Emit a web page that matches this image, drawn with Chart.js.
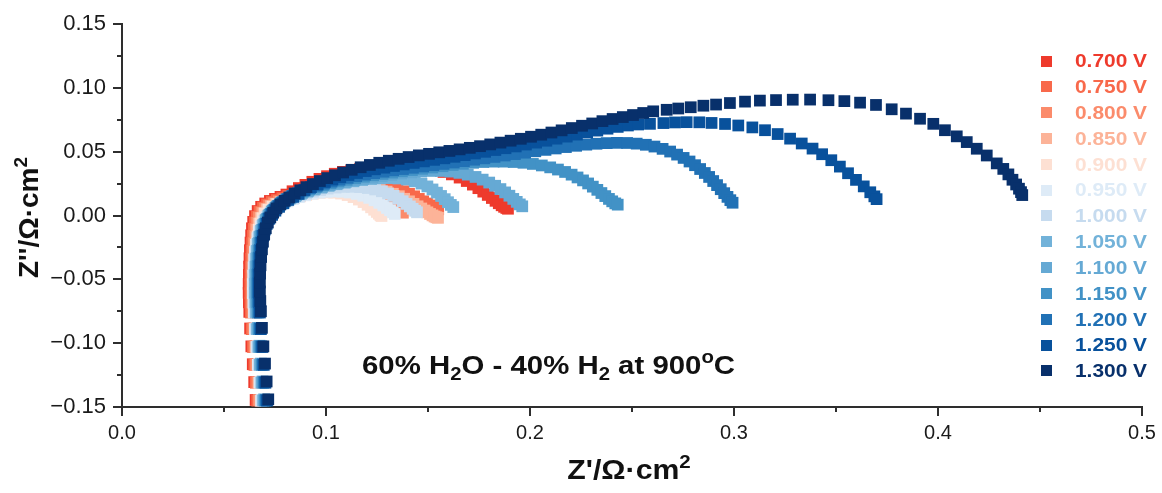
<!DOCTYPE html>
<html>
<head>
<meta charset="utf-8">
<script src="https://cdn.jsdelivr.net/npm/chart.js@4.4.1/dist/chart.umd.min.js"></script>
<style>
  html, body { margin: 0; padding: 0; background: #ffffff; }
  canvas { display: block; }
</style>
</head>
<body>
<canvas id="nyquist" width="1162" height="493"></canvas>
<script>
// Axis ticks
const xTicks = [0, 0.1, 0.2, 0.3, 0.4, 0.5];
const xTickLabels = ['0.0', '0.1', '0.2', '0.3', '0.4', '0.5'];
const yTicks = [-0.15, -0.10, -0.05, 0, 0.05, 0.10, 0.15];
const yTickLabels = ['\u22120.15', '\u22120.10', '\u22120.05', '0.00', '0.05', '0.10', '0.15'];

// Cell voltages and their colours
const voltages = ['0.700 V', '0.750 V', '0.800 V', '0.850 V', '0.900 V', '0.950 V', '1.000 V',
                  '1.050 V', '1.100 V', '1.150 V', '1.200 V', '1.250 V', '1.300 V'];
const colors = ['#ee3a2c', '#f8694b', '#fb8b6b', '#fcb398', '#fde0d3', '#deebf7', '#c6dbef',
                '#72b2d9', '#65a9d4', '#4292c6', '#2171b5', '#08519c', '#08306b'];

// Impedance spectra, [Z', Z''] in ohm·cm², from high to low frequency
const z0700 = [[0.0655,-0.1445],[0.0648,-0.1305],[0.0641,-0.1165],[0.0634,-0.1025],[0.0628,-0.0885],[0.0624,-0.0755],[0.0622,-0.0680],[0.0621,-0.0605],[0.0621,-0.0535],[0.0622,-0.0465],[0.0623,-0.0400],[0.0625,-0.0335],[0.0627,-0.0272],[0.0630,-0.0212],[0.0633,-0.0155],[0.0637,-0.0100],[0.0643,-0.0050],[0.0652,-0.0005],[0.0665,0.0035],[0.0682,0.0068],[0.0702,0.0094],[0.0725,0.0114],[0.0750,0.0130],[0.0777,0.0146],[0.0806,0.0164],[0.0836,0.0190],[0.0867,0.0215],[0.0899,0.0240],[0.0933,0.0264],[0.0968,0.0287],[0.1005,0.0308],[0.1043,0.0327],[0.1083,0.0342],[0.1124,0.0354],[0.1166,0.0363],[0.1210,0.0370],[0.1255,0.0375],[0.1301,0.0378],[0.1348,0.0379],[0.1395,0.0378],[0.1442,0.0375],[0.1488,0.0368],[0.1533,0.0356],[0.1576,0.0341],[0.1617,0.0322],[0.1655,0.0297],[0.1690,0.0270],[0.1720,0.0242],[0.1747,0.0214],[0.1771,0.0187],[0.1793,0.0161],[0.1813,0.0137],[0.1831,0.0115],[0.1847,0.0096],[0.1861,0.0080],[0.1873,0.0068],[0.1884,0.0059],[0.1892,0.0053]];
const z0750 = [[0.0663,-0.1450],[0.0656,-0.1310],[0.0649,-0.1170],[0.0642,-0.1030],[0.0636,-0.0890],[0.0632,-0.0760],[0.0630,-0.0684],[0.0629,-0.0610],[0.0629,-0.0540],[0.0630,-0.0470],[0.0631,-0.0405],[0.0633,-0.0340],[0.0635,-0.0277],[0.0638,-0.0217],[0.0641,-0.0160],[0.0646,-0.0105],[0.0652,-0.0055],[0.0661,-0.0010],[0.0674,0.0030],[0.0691,0.0062],[0.0711,0.0087],[0.0734,0.0106],[0.0759,0.0121],[0.0786,0.0136],[0.0815,0.0152],[0.0845,0.0169],[0.0876,0.0186],[0.0908,0.0203],[0.0942,0.0219],[0.0977,0.0233],[0.1014,0.0245],[0.1052,0.0255],[0.1091,0.0262],[0.1131,0.0266],[0.1171,0.0266],[0.1210,0.0262],[0.1248,0.0253],[0.1284,0.0240],[0.1318,0.0226],[0.1350,0.0209],[0.1380,0.0190],[0.1407,0.0170],[0.1432,0.0150],[0.1455,0.0130],[0.1476,0.0111],[0.1495,0.0094],[0.1512,0.0079],[0.1527,0.0066],[0.1540,0.0056],[0.1550,0.0048]];
const z0800 = [[0.0671,-0.1445],[0.0664,-0.1305],[0.0657,-0.1165],[0.0650,-0.1025],[0.0644,-0.0885],[0.0640,-0.0755],[0.0638,-0.0680],[0.0637,-0.0605],[0.0637,-0.0535],[0.0638,-0.0466],[0.0639,-0.0401],[0.0641,-0.0337],[0.0643,-0.0275],[0.0646,-0.0216],[0.0650,-0.0160],[0.0655,-0.0107],[0.0662,-0.0058],[0.0671,-0.0015],[0.0684,0.0023],[0.0701,0.0054],[0.0721,0.0078],[0.0744,0.0096],[0.0769,0.0111],[0.0796,0.0126],[0.0825,0.0142],[0.0855,0.0158],[0.0886,0.0174],[0.0918,0.0189],[0.0952,0.0202],[0.0987,0.0213],[0.1023,0.0221],[0.1060,0.0226],[0.1097,0.0227],[0.1134,0.0224],[0.1170,0.0216],[0.1204,0.0204],[0.1235,0.0188],[0.1263,0.0169],[0.1288,0.0148],[0.1310,0.0126],[0.1329,0.0104],[0.1345,0.0083],[0.1358,0.0064],[0.1367,0.0047],[0.1373,0.0033],[0.1377,0.0022]];
const z0850 = [[0.0679,-0.1450],[0.0672,-0.1310],[0.0665,-0.1170],[0.0658,-0.1030],[0.0652,-0.0890],[0.0648,-0.0760],[0.0646,-0.0684],[0.0645,-0.0610],[0.0645,-0.0540],[0.0646,-0.0471],[0.0647,-0.0406],[0.0649,-0.0342],[0.0651,-0.0280],[0.0654,-0.0221],[0.0658,-0.0165],[0.0663,-0.0112],[0.0670,-0.0063],[0.0680,-0.0020],[0.0693,0.0018],[0.0710,0.0049],[0.0730,0.0073],[0.0753,0.0091],[0.0778,0.0106],[0.0805,0.0121],[0.0834,0.0136],[0.0864,0.0151],[0.0895,0.0166],[0.0928,0.0180],[0.0962,0.0193],[0.0997,0.0205],[0.1034,0.0215],[0.1072,0.0222],[0.1111,0.0226],[0.1150,0.0226],[0.1189,0.0222],[0.1227,0.0214],[0.1263,0.0202],[0.1297,0.0187],[0.1328,0.0170],[0.1357,0.0151],[0.1383,0.0131],[0.1407,0.0111],[0.1429,0.0091],[0.1449,0.0072],[0.1467,0.0055],[0.1483,0.0039],[0.1497,0.0025],[0.1510,0.0012],[0.1522,0.0001],[0.1532,-0.0008],[0.1541,-0.0014],[0.1549,-0.0018]];
const z0900 = [[0.0687,-0.1445],[0.0680,-0.1305],[0.0673,-0.1165],[0.0666,-0.1025],[0.0660,-0.0885],[0.0656,-0.0755],[0.0654,-0.0680],[0.0653,-0.0606],[0.0653,-0.0536],[0.0654,-0.0467],[0.0655,-0.0402],[0.0657,-0.0338],[0.0659,-0.0277],[0.0662,-0.0218],[0.0666,-0.0163],[0.0671,-0.0111],[0.0678,-0.0063],[0.0688,-0.0021],[0.0701,0.0016],[0.0718,0.0046],[0.0738,0.0070],[0.0761,0.0089],[0.0786,0.0105],[0.0813,0.0120],[0.0842,0.0135],[0.0872,0.0149],[0.0903,0.0161],[0.0936,0.0171],[0.0970,0.0178],[0.1005,0.0181],[0.1040,0.0179],[0.1074,0.0172],[0.1106,0.0160],[0.1135,0.0144],[0.1161,0.0125],[0.1184,0.0105],[0.1204,0.0084],[0.1221,0.0064],[0.1236,0.0045],[0.1249,0.0028],[0.1259,0.0014],[0.1267,0.0003],[0.1272,-0.0004]];
const z0950 = [[0.0682,-0.1450],[0.0674,-0.1310],[0.0666,-0.1170],[0.0659,-0.1030],[0.0652,-0.0890],[0.0647,-0.0760],[0.0644,-0.0682],[0.0642,-0.0608],[0.0642,-0.0538],[0.0643,-0.0471],[0.0645,-0.0407],[0.0648,-0.0345],[0.0652,-0.0286],[0.0657,-0.0230],[0.0664,-0.0178],[0.0672,-0.0130],[0.0682,-0.0087],[0.0694,-0.0049],[0.0708,-0.0015],[0.0724,0.0016],[0.0742,0.0043],[0.0763,0.0068],[0.0786,0.0090],[0.0811,0.0110],[0.0838,0.0128],[0.0867,0.0144],[0.0898,0.0158],[0.0931,0.0170],[0.0966,0.0179],[0.1003,0.0185],[0.1041,0.0188],[0.1079,0.0186],[0.1116,0.0180],[0.1151,0.0169],[0.1183,0.0155],[0.1212,0.0138],[0.1238,0.0119],[0.1261,0.0099],[0.1281,0.0079],[0.1299,0.0059],[0.1314,0.0041],[0.1327,0.0025],[0.1337,0.0012]];
const z1000 = [[0.0687,-0.1445],[0.0679,-0.1305],[0.0671,-0.1165],[0.0664,-0.1025],[0.0657,-0.0885],[0.0652,-0.0755],[0.0649,-0.0677],[0.0647,-0.0603],[0.0647,-0.0533],[0.0648,-0.0466],[0.0650,-0.0402],[0.0653,-0.0339],[0.0657,-0.0280],[0.0662,-0.0224],[0.0669,-0.0172],[0.0677,-0.0124],[0.0687,-0.0081],[0.0699,-0.0043],[0.0713,-0.0009],[0.0729,0.0022],[0.0747,0.0050],[0.0768,0.0075],[0.0791,0.0098],[0.0816,0.0119],[0.0843,0.0138],[0.0872,0.0156],[0.0903,0.0172],[0.0936,0.0187],[0.0971,0.0200],[0.1008,0.0211],[0.1047,0.0219],[0.1087,0.0224],[0.1127,0.0225],[0.1167,0.0222],[0.1205,0.0215],[0.1241,0.0204],[0.1274,0.0190],[0.1304,0.0173],[0.1331,0.0154],[0.1355,0.0133],[0.1376,0.0112],[0.1395,0.0091],[0.1411,0.0071],[0.1425,0.0053],[0.1437,0.0037],[0.1446,0.0025]];
const z1050 = [[0.0692,-0.1450],[0.0684,-0.1310],[0.0676,-0.1170],[0.0669,-0.1030],[0.0662,-0.0890],[0.0657,-0.0760],[0.0654,-0.0680],[0.0652,-0.0605],[0.0652,-0.0535],[0.0653,-0.0467],[0.0655,-0.0402],[0.0658,-0.0338],[0.0662,-0.0278],[0.0667,-0.0221],[0.0674,-0.0168],[0.0682,-0.0119],[0.0692,-0.0075],[0.0704,-0.0036],[0.0718,-0.0001],[0.0734,0.0031],[0.0752,0.0059],[0.0773,0.0085],[0.0796,0.0109],[0.0821,0.0131],[0.0848,0.0151],[0.0877,0.0170],[0.0908,0.0187],[0.0941,0.0203],[0.0976,0.0218],[0.1013,0.0232],[0.1052,0.0245],[0.1092,0.0257],[0.1134,0.0268],[0.1177,0.0278],[0.1221,0.0286],[0.1266,0.0291],[0.1311,0.0293],[0.1355,0.0290],[0.1397,0.0282],[0.1435,0.0268],[0.1468,0.0250],[0.1497,0.0228],[0.1522,0.0204],[0.1544,0.0179],[0.1564,0.0153],[0.1582,0.0128],[0.1598,0.0104],[0.1612,0.0083],[0.1624,0.0066]];
const z1100 = [[0.0697,-0.1440],[0.0689,-0.1300],[0.0681,-0.1160],[0.0674,-0.1020],[0.0667,-0.0880],[0.0662,-0.0750],[0.0659,-0.0672],[0.0657,-0.0598],[0.0657,-0.0528],[0.0658,-0.0460],[0.0660,-0.0395],[0.0663,-0.0332],[0.0667,-0.0272],[0.0672,-0.0215],[0.0679,-0.0162],[0.0687,-0.0113],[0.0697,-0.0069],[0.0709,-0.0030],[0.0723,0.0005],[0.0739,0.0037],[0.0757,0.0066],[0.0778,0.0092],[0.0801,0.0116],[0.0826,0.0138],[0.0853,0.0158],[0.0882,0.0177],[0.0913,0.0194],[0.0946,0.0210],[0.0981,0.0225],[0.1018,0.0239],[0.1057,0.0252],[0.1097,0.0264],[0.1139,0.0276],[0.1182,0.0287],[0.1227,0.0298],[0.1273,0.0309],[0.1320,0.0319],[0.1368,0.0329],[0.1417,0.0338],[0.1466,0.0345],[0.1515,0.0349],[0.1563,0.0349],[0.1610,0.0344],[0.1654,0.0334],[0.1695,0.0320],[0.1733,0.0302],[0.1768,0.0281],[0.1800,0.0258],[0.1829,0.0233],[0.1855,0.0207],[0.1878,0.0181],[0.1899,0.0155],[0.1918,0.0130],[0.1935,0.0107],[0.1950,0.0087],[0.1962,0.0072]];
const z1150 = [[0.0701,-0.1450],[0.0693,-0.1310],[0.0685,-0.1170],[0.0678,-0.1030],[0.0671,-0.0890],[0.0666,-0.0760],[0.0663,-0.0680],[0.0661,-0.0605],[0.0661,-0.0535],[0.0662,-0.0465],[0.0664,-0.0400],[0.0667,-0.0335],[0.0671,-0.0275],[0.0676,-0.0217],[0.0683,-0.0163],[0.0691,-0.0113],[0.0701,-0.0068],[0.0713,-0.0028],[0.0727,0.0008],[0.0743,0.0041],[0.0761,0.0071],[0.0782,0.0099],[0.0805,0.0124],[0.0830,0.0147],[0.0857,0.0168],[0.0886,0.0187],[0.0917,0.0205],[0.0950,0.0222],[0.0985,0.0238],[0.1022,0.0253],[0.1061,0.0267],[0.1101,0.0280],[0.1143,0.0292],[0.1186,0.0304],[0.1231,0.0315],[0.1277,0.0326],[0.1324,0.0336],[0.1372,0.0346],[0.1421,0.0356],[0.1471,0.0366],[0.1521,0.0376],[0.1571,0.0386],[0.1621,0.0396],[0.1671,0.0405],[0.1721,0.0413],[0.1771,0.0419],[0.1821,0.0422],[0.1871,0.0422],[0.1920,0.0419],[0.1968,0.0413],[0.2014,0.0404],[0.2058,0.0392],[0.2099,0.0377],[0.2137,0.0360],[0.2172,0.0341],[0.2204,0.0320],[0.2233,0.0298],[0.2260,0.0275],[0.2285,0.0251],[0.2308,0.0226],[0.2330,0.0201],[0.2350,0.0176],[0.2369,0.0152],[0.2387,0.0130],[0.2403,0.0111],[0.2418,0.0095],[0.2430,0.0085]];
const z1200 = [[0.0706,-0.1445],[0.0698,-0.1305],[0.0690,-0.1165],[0.0683,-0.1025],[0.0676,-0.0885],[0.0671,-0.0755],[0.0668,-0.0675],[0.0666,-0.0600],[0.0666,-0.0530],[0.0667,-0.0460],[0.0669,-0.0395],[0.0672,-0.0330],[0.0676,-0.0270],[0.0681,-0.0212],[0.0688,-0.0158],[0.0696,-0.0108],[0.0706,-0.0063],[0.0718,-0.0023],[0.0732,0.0013],[0.0748,0.0046],[0.0766,0.0076],[0.0787,0.0104],[0.0810,0.0130],[0.0835,0.0154],[0.0862,0.0176],[0.0891,0.0196],[0.0922,0.0215],[0.0955,0.0233],[0.0990,0.0250],[0.1027,0.0266],[0.1066,0.0281],[0.1106,0.0295],[0.1148,0.0308],[0.1191,0.0320],[0.1236,0.0332],[0.1282,0.0343],[0.1329,0.0354],[0.1377,0.0364],[0.1426,0.0374],[0.1476,0.0384],[0.1526,0.0394],[0.1576,0.0404],[0.1626,0.0415],[0.1676,0.0426],[0.1726,0.0437],[0.1776,0.0448],[0.1826,0.0459],[0.1876,0.0470],[0.1926,0.0481],[0.1976,0.0492],[0.2026,0.0503],[0.2076,0.0514],[0.2126,0.0525],[0.2176,0.0536],[0.2226,0.0546],[0.2276,0.0555],[0.2326,0.0562],[0.2376,0.0567],[0.2426,0.0569],[0.2476,0.0568],[0.2523,0.0563],[0.2568,0.0554],[0.2610,0.0540],[0.2650,0.0522],[0.2687,0.0501],[0.2721,0.0477],[0.2753,0.0451],[0.2782,0.0423],[0.2809,0.0394],[0.2834,0.0364],[0.2857,0.0333],[0.2878,0.0302],[0.2898,0.0270],[0.2917,0.0238],[0.2935,0.0206],[0.2952,0.0175],[0.2968,0.0146],[0.2982,0.0120],[0.2993,0.0100]];
const z1250 = [[0.0711,-0.1450],[0.0703,-0.1310],[0.0695,-0.1170],[0.0688,-0.1030],[0.0681,-0.0890],[0.0676,-0.0760],[0.0673,-0.0680],[0.0671,-0.0605],[0.0671,-0.0535],[0.0672,-0.0465],[0.0674,-0.0400],[0.0677,-0.0335],[0.0681,-0.0275],[0.0686,-0.0215],[0.0692,-0.0160],[0.0700,-0.0110],[0.0710,-0.0065],[0.0722,-0.0025],[0.0736,0.0005],[0.0752,0.0038],[0.0770,0.0068],[0.0791,0.0096],[0.0814,0.0122],[0.0839,0.0146],[0.0866,0.0169],[0.0895,0.0200],[0.0926,0.0222],[0.0959,0.0243],[0.0994,0.0263],[0.1031,0.0282],[0.1070,0.0300],[0.1110,0.0317],[0.1152,0.0333],[0.1195,0.0348],[0.1240,0.0362],[0.1286,0.0375],[0.1333,0.0388],[0.1381,0.0400],[0.1430,0.0412],[0.1480,0.0424],[0.1530,0.0436],[0.1580,0.0448],[0.1630,0.0460],[0.1680,0.0473],[0.1730,0.0486],[0.1780,0.0499],[0.1830,0.0513],[0.1880,0.0527],[0.1930,0.0541],[0.1980,0.0556],[0.2030,0.0571],[0.2080,0.0586],[0.2130,0.0602],[0.2180,0.0618],[0.2230,0.0634],[0.2280,0.0650],[0.2330,0.0665],[0.2380,0.0680],[0.2430,0.0694],[0.2480,0.0705],[0.2530,0.0713],[0.2588,0.0718],[0.2654,0.0724],[0.2711,0.0729],[0.2768,0.0731],[0.2830,0.0730],[0.2890,0.0725],[0.2956,0.0717],[0.3021,0.0705],[0.3090,0.0690],[0.3152,0.0668],[0.3214,0.0638],[0.3275,0.0602],[0.3332,0.0564],[0.3385,0.0524],[0.3432,0.0480],[0.3477,0.0433],[0.3519,0.0383],[0.3559,0.0331],[0.3598,0.0279],[0.3636,0.0228],[0.3668,0.0182],[0.3688,0.0150],[0.3699,0.0128]];
const z1300 = [[0.0717,-0.1440],[0.0709,-0.1300],[0.0701,-0.1160],[0.0693,-0.1025],[0.0686,-0.0880],[0.0681,-0.0750],[0.0678,-0.0670],[0.0676,-0.0595],[0.0676,-0.0525],[0.0677,-0.0455],[0.0679,-0.0390],[0.0682,-0.0325],[0.0686,-0.0265],[0.0691,-0.0205],[0.0697,-0.0150],[0.0705,-0.0100],[0.0715,-0.0055],[0.0727,-0.0015],[0.0741,0.0022],[0.0757,0.0056],[0.0776,0.0087],[0.0797,0.0115],[0.0820,0.0141],[0.0846,0.0172],[0.0874,0.0197],[0.0904,0.0222],[0.0936,0.0246],[0.0970,0.0270],[0.1006,0.0293],[0.1044,0.0315],[0.1084,0.0337],[0.1126,0.0358],[0.1170,0.0378],[0.1215,0.0396],[0.1261,0.0413],[0.1308,0.0429],[0.1356,0.0444],[0.1405,0.0458],[0.1455,0.0471],[0.1505,0.0483],[0.1555,0.0495],[0.1605,0.0506],[0.1655,0.0518],[0.1705,0.0530],[0.1755,0.0543],[0.1805,0.0557],[0.1855,0.0571],[0.1905,0.0586],[0.1955,0.0601],[0.2005,0.0617],[0.2055,0.0633],[0.2105,0.0650],[0.2155,0.0667],[0.2205,0.0685],[0.2255,0.0703],[0.2305,0.0721],[0.2355,0.0739],[0.2405,0.0756],[0.2455,0.0771],[0.2505,0.0787],[0.2555,0.0803],[0.2604,0.0816],[0.2670,0.0828],[0.2727,0.0838],[0.2788,0.0848],[0.2850,0.0860],[0.2912,0.0869],[0.2980,0.0881],[0.3054,0.0892],[0.3127,0.0900],[0.3206,0.0904],[0.3288,0.0907],[0.3373,0.0908],[0.3463,0.0903],[0.3541,0.0896],[0.3618,0.0884],[0.3696,0.0866],[0.3773,0.0832],[0.3843,0.0798],[0.3912,0.0758],[0.3977,0.0718],[0.4034,0.0668],[0.4092,0.0620],[0.4141,0.0575],[0.4190,0.0523],[0.4239,0.0470],[0.4288,0.0408],[0.4320,0.0365],[0.4345,0.0322],[0.4365,0.0280],[0.4383,0.0243],[0.4397,0.0210],[0.4407,0.0183],[0.4413,0.0160]];

const series = [z0700, z0750, z0800, z0850, z0900, z0950, z1000, z1050, z1100, z1150, z1200, z1250, z1300];

const FONT = "'Liberation Sans', Arial, Helvetica, sans-serif";
const AXIS = '#2e2e2e';
const TEXT = '#1a1a1a';

// Later (higher voltage) spectra are painted over earlier ones
const datasets = series.map((pts, i) => ({
  label: voltages[i],
  data: pts.map(([x, y]) => ({ x, y })),
  backgroundColor: colors[i],
  borderColor: colors[i],
  pointStyle: 'rect',
  pointRadius: 8.3,
  pointHoverRadius: 8.3,
  pointBorderWidth: 0,
  showLine: false,
  order: series.length - i
}));

// Draws a run of text pieces; pieces with `dy` are smaller sub/superscripts.
// `align` 'center' centres the whole run on x.
function drawRun(ctx, pieces, x, y, size, small, align, stretch) {
  const widths = pieces.map(p => {
    ctx.font = `bold ${p.dy ? small : size}px ${FONT}`;
    return ctx.measureText(p.t).width;
  });
  const total = widths.reduce((a, b) => a + b, 0);
  ctx.save();
  ctx.translate(x, y);
  ctx.scale(stretch, 1);
  let cx = align === 'center' ? -total / 2 : 0;
  ctx.textAlign = 'left';
  ctx.textBaseline = 'alphabetic';
  pieces.forEach((p, i) => {
    ctx.font = `bold ${p.dy ? small : size}px ${FONT}`;
    ctx.fillText(p.t, cx, p.dy || 0);
    cx += widths[i];
  });
  ctx.restore();
}

// Short unlabeled ticks halfway between the labeled ones
const minorTicks = {
  id: 'minorTicks',
  afterDraw(chart) {
    const { ctx, chartArea, scales: { x, y } } = chart;
    ctx.save();
    ctx.strokeStyle = AXIS;
    ctx.lineWidth = 2;
    ctx.beginPath();
    for (let i = 0; i < xTicks.length - 1; i++) {
      const px = Math.round(x.getPixelForValue((xTicks[i] + xTicks[i + 1]) / 2));
      ctx.moveTo(px, chartArea.bottom);
      ctx.lineTo(px, chartArea.bottom + 5);
    }
    for (let i = 0; i < yTicks.length - 1; i++) {
      const py = Math.round(y.getPixelForValue((yTicks[i] + yTicks[i + 1]) / 2));
      ctx.moveTo(chartArea.left, py);
      ctx.lineTo(chartArea.left - 5, py);
    }
    ctx.stroke();
    ctx.restore();
  }
};

// Axis titles with a real superscript
const axisTitles = {
  id: 'axisTitles',
  afterDraw(chart) {
    const { ctx, chartArea } = chart;
    ctx.save();
    ctx.fillStyle = '#111111';
    const cx = (chartArea.left + chartArea.right) / 2;
    drawRun(ctx, [{ t: "Z'/\u03a9\u00b7cm" }, { t: '2', dy: -11 }], cx - 3, 479, 28, 19, 'center', 1.08);
    ctx.translate(38, (chartArea.top + chartArea.bottom) / 2 + 2);
    ctx.rotate(-Math.PI / 2);
    drawRun(ctx, [{ t: "Z''/\u03a9\u00b7cm" }, { t: '2', dy: -11 }], 0, 0, 28, 19, 'center', 1.0);
    ctx.restore();
  }
};

// Voltage key: coloured square plus coloured label
const voltageKey = {
  id: 'voltageKey',
  afterDraw(chart) {
    const ctx = chart.ctx;
    ctx.save();
    ctx.font = `bold 19px ${FONT}`;
    ctx.textAlign = 'left';
    ctx.textBaseline = 'middle';
    voltages.forEach((v, i) => {
      const cy = 61 + i * 25.83;
      ctx.fillStyle = colors[i];
      ctx.fillRect(1041, Math.round(cy - 5.5), 11, 11);
      ctx.save();
      ctx.translate(1075, cy + 1);
      ctx.scale(1.1, 1);
      ctx.fillText(v, 0, 0);
      ctx.restore();
    });
    ctx.restore();
  }
};

// Gas composition / temperature note
const conditionNote = {
  id: 'conditionNote',
  afterDraw(chart) {
    const ctx = chart.ctx;
    ctx.save();
    ctx.fillStyle = '#111111';
    drawRun(ctx, [
      { t: '60% H' }, { t: '2', dy: 6 }, { t: 'O - 40% H' }, { t: '2', dy: 6 },
      { t: ' at 900' }, { t: 'o', dy: -11 }, { t: 'C' }
    ], 362, 374, 26, 18, 'left', 1.13);
    ctx.restore();
  }
};

new Chart(document.getElementById('nyquist'), {
  type: 'scatter',
  data: { datasets },
  options: {
    responsive: false,
    animation: false,
    devicePixelRatio: 1,
    events: [],
    layout: { padding: { left: 0, right: 20, top: 24, bottom: 0 } },
    plugins: { legend: { display: false }, tooltip: { enabled: false } },
    scales: {
      x: {
        type: 'linear',
        min: 0,
        max: 0.5,
        afterBuildTicks: s => { s.ticks = xTicks.map(v => ({ value: v })); },
        afterFit: s => { s.height = 86; },
        ticks: {
          callback: (v, i) => xTickLabels[i],
          font: { family: FONT, size: 20 },
          color: TEXT,
          padding: 5,
          maxRotation: 0,
          autoSkip: false
        },
        grid: { drawOnChartArea: false, drawTicks: true, tickLength: 9, color: AXIS, lineWidth: 2 },
        border: { display: true, color: AXIS, width: 2 },
        title: { display: false }
      },
      y: {
        type: 'linear',
        min: -0.15,
        max: 0.15,
        afterBuildTicks: s => { s.ticks = yTicks.map(v => ({ value: v })); },
        afterFit: s => { s.width = 122; },
        ticks: {
          callback: (v, i) => yTickLabels[i],
          font: { family: FONT, size: 22 },
          color: TEXT,
          padding: 7,
          autoSkip: false
        },
        grid: { drawOnChartArea: false, drawTicks: true, tickLength: 9, color: AXIS, lineWidth: 2 },
        border: { display: true, color: AXIS, width: 2 },
        title: { display: false }
      }
    }
  },
  plugins: [minorTicks, axisTitles, voltageKey, conditionNote]
});
</script>
</body>
</html>
